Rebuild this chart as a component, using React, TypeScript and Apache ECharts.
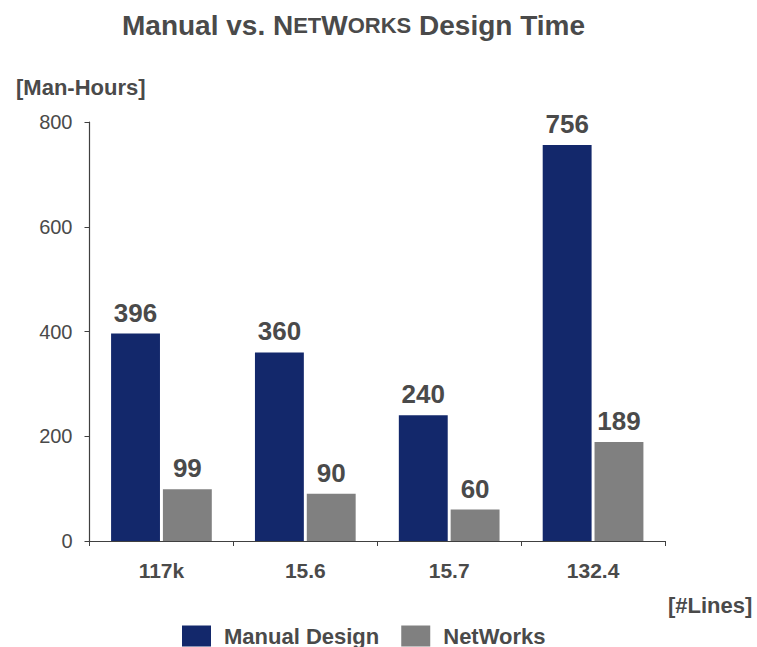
import React, { useEffect, useRef } from "react";
import * as echarts from "echarts";

const categories = ["117k", "15.6", "15.7", "132.4"];
const manualDesign = [396, 360, 240, 756];
const netWorks = [99, 90, 60, 189];
const yTicks = { min: 0, max: 800, interval: 200 };

const FONT = "'Liberation Sans', Arial, sans-serif";
const TXT = "#4a4a4a";

export default function App() {
  const ref = useRef<HTMLDivElement>(null);
  useEffect(() => {
    if (!ref.current) return;
    const chart = echarts.init(ref.current, null, { renderer: "svg" });
    const labelCfg = {
      show: true,
      position: "top",
      distance: 8,
      fontSize: 26,
      fontWeight: "bold",
      color: TXT,
      fontFamily: FONT,
    };
    chart.setOption({
      animation: false,
      textStyle: { fontFamily: FONT },
      title: {
        text: "{a|Manual vs. N}{b|ET}{a|W}{b|ORKS}{a| Design Time}",
        left: 117,
        top: 6,
        textStyle: {
          rich: {
            a: { fontSize: 28, fontWeight: "bold", color: TXT, fontFamily: FONT },
            b: { fontSize: 22, fontWeight: "bold", color: TXT, fontFamily: FONT },
          },
        },
      },
      legend: {
        left: 177,
        top: 620,
        itemWidth: 29,
        itemHeight: 21,
        itemGap: 22,
        icon: "rect",
        textStyle: { fontSize: 22, lineHeight: 22, fontWeight: "bold", color: TXT, fontFamily: FONT, padding: [0, 0, 0, 8] },
        data: ["Manual Design", "NetWorks"],
      },
      grid: { left: 89.5, right: 92, top: 122, bottom: 106, containLabel: false },
      xAxis: {
        type: "category",
        data: categories,
        axisLine: { lineStyle: { color: "#404040", width: 1.2 } },
        axisTick: { show: true, length: 5, inside: false, lineStyle: { color: "#404040" } },
        axisLabel: { fontSize: 21, fontWeight: "bold", color: TXT, margin: 19, fontFamily: FONT },
      },
      yAxis: {
        type: "value",
        min: yTicks.min,
        max: yTicks.max,
        interval: yTicks.interval,
        axisLine: { show: true, lineStyle: { color: "#404040", width: 1.2 } },
        axisTick: { show: true, length: 5, lineStyle: { color: "#404040" } },
        splitLine: { show: false },
        axisLabel: { fontSize: 20, color: TXT, margin: 17, fontFamily: FONT },
      },
      graphic: [
        {
          type: "text",
          left: 16,
          top: 76,
          style: { text: "[Man-Hours]", fontSize: 22, fontWeight: "bold", fill: TXT, fontFamily: FONT },
        },
        {
          type: "text",
          left: 668,
          top: 594,
          style: { text: "[#Lines]", fontSize: 22, fontWeight: "bold", fill: TXT, fontFamily: FONT },
        },
      ],
      series: [
        {
          name: "Manual Design",
          type: "bar",
          data: manualDesign,
          barCategoryGap: "30%",
          barGap: "6%",
          itemStyle: { color: "#13286b" },
          label: labelCfg,
        },
        {
          name: "NetWorks",
          type: "bar",
          data: netWorks,
          barCategoryGap: "30%",
          barGap: "6%",
          itemStyle: { color: "#808080" },
          label: labelCfg,
        },
      ],
    });
    return () => chart.dispose();
  }, []);
  return (
    <div
      ref={ref}
      style={{ position: "absolute", left: 0, top: 0, width: 757, height: 647 }}
    />
  );
}
